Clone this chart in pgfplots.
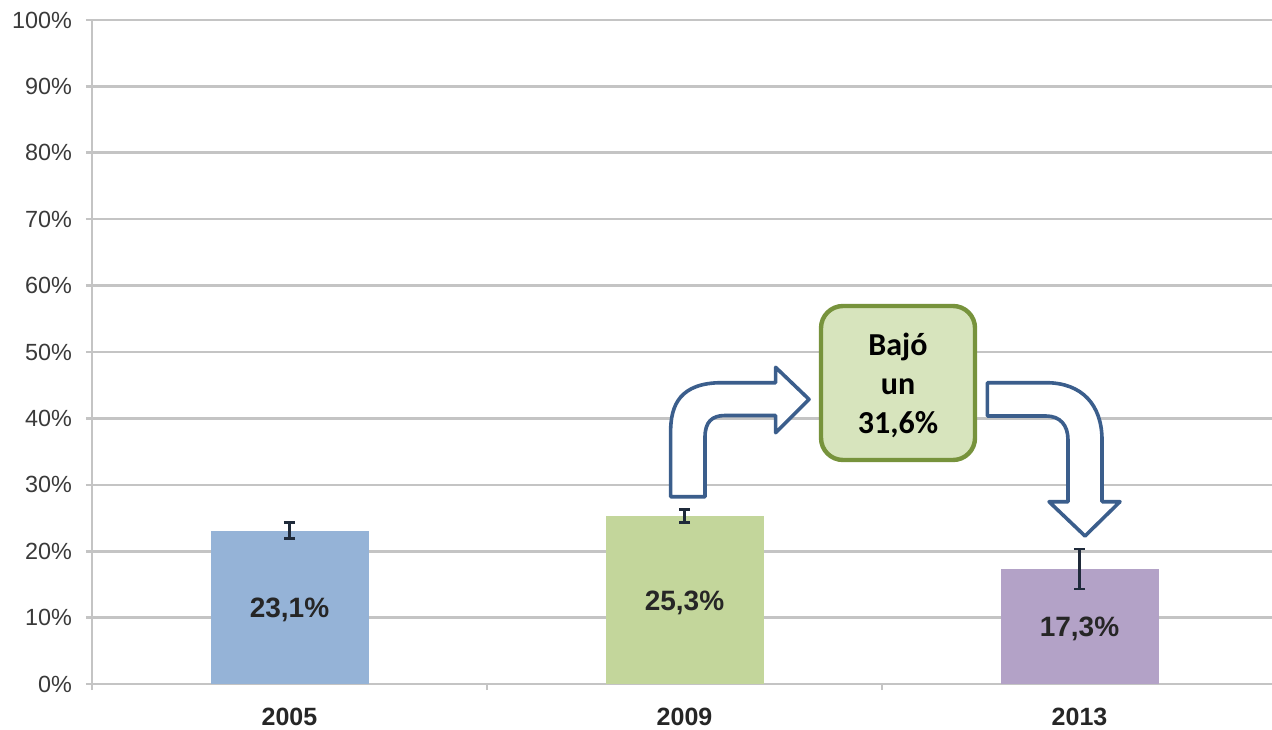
\documentclass[border=0pt]{standalone}
\usepackage{pgfplots}
\pgfplotsset{compat=1.18}
\usepackage{fontspec}
\setmainfont{Liberation Sans}
\newfontfamily\carlito{Carlito}
\definecolor{gridc}{HTML}{C4C4C4}
\definecolor{cblue}{HTML}{95B3D7}
\definecolor{cgreen}{HTML}{C3D69B}
\definecolor{cpurple}{HTML}{B3A2C7}
\definecolor{arrowc}{HTML}{3B5E8C}
\definecolor{boxfill}{HTML}{D7E4BD}
\definecolor{boxdraw}{HTML}{77933C}
\definecolor{errc}{HTML}{1F2A3A}
\definecolor{txt}{HTML}{3A3A3A}
\begin{document}
\begin{tikzpicture}
\begin{axis}[name=ax, scale only axis, width=592.5pt, height=332pt,
  xmin=-0.5, xmax=2.5, ymin=0, ymax=100,
  axis x line*=bottom, axis y line*=left,
  axis line style={gridc, line width=1.3pt, -},
  tick align=outside, major tick length=3pt,
  tick style={gridc, line width=1.3pt},
  ytick={0,10,...,100},
  yticklabels={0\%,10\%,20\%,30\%,40\%,50\%,60\%,70\%,80\%,90\%,100\%},
  yticklabel style={font=\fontsize{11.7}{13}\selectfont, text=txt, xshift=-3.5pt},
  ymajorgrids, grid style={gridc, line width=1.3pt},
  xtick={-0.5,0.5,1.5,2.5}, xticklabels={},
  extra x ticks={0,1,2}, extra x tick labels={2005,2009,2013},
  extra x tick style={major tick length=0pt, xticklabel style={font=\fontsize{12.5}{14}\selectfont\bfseries, text=black!85, yshift=-8.5pt}},
  clip=false,
]
\addplot[ybar, bar width=79pt, bar shift=0pt, fill=cblue, draw=none,
  error bars/.cd, y dir=both, y explicit,
  error bar style={errc, line width=1.2pt},
  error mark options={rotate=90, errc, mark size=2.8pt, line width=1.2pt}]
  coordinates {(0,23.1) +- (0,1.2)};
\addplot[ybar, bar width=79pt, bar shift=0pt, fill=cgreen, draw=none,
  error bars/.cd, y dir=both, y explicit,
  error bar style={errc, line width=1.2pt},
  error mark options={rotate=90, errc, mark size=2.8pt, line width=1.2pt}]
  coordinates {(1,25.3) +- (0,1.0)};
\addplot[ybar, bar width=79pt, bar shift=0pt, fill=cpurple, draw=none,
  error bars/.cd, y dir=both, y explicit,
  error bar style={errc, line width=1.2pt},
  error mark options={rotate=90, errc, mark size=2.8pt, line width=1.2pt}]
  coordinates {(2,17.3) +- (0,3.0)};
\node[font=\fontsize{14}{16}\selectfont\bfseries, text=black!85] at (axis cs:0,11.1) {23,1\%};
\node[font=\fontsize{14}{16}\selectfont\bfseries, text=black!85] at (axis cs:1,12.2) {25,3\%};
\node[font=\fontsize{14}{16}\selectfont\bfseries, text=black!85] at (axis cs:2,8.3) {17,3\%};
\end{axis}
\begin{scope}[shift={(ax.north west)}, x=0.5pt, y=-0.5pt, shift={(-92,-20)}]
  % left bent arrow
  \draw[arrowc, line width=1.8pt, fill=white, line join=round]
    (670.6,496.7) -- (670.6,432) .. controls (670.6,405) and (680,382.7) .. (722,382.7)
    -- (775.6,382.7) -- (775.6,367.3) -- (809,399.3) -- (775.6,432.7) -- (775.6,415.5)
    -- (725,415.5) .. controls (712,415.5) and (705,422) .. (705,437) -- (705,496.7) -- cycle;
  % right bent arrow
  \draw[arrowc, line width=1.8pt, fill=white, line join=round]
    (987.4,382.7) -- (1046,382.7) .. controls (1082,382.7) and (1102,405) .. (1102,440)
    -- (1102,501.7) -- (1120,501.7) -- (1085,536) -- (1049,501.7) -- (1068,501.7)
    -- (1068,440) .. controls (1068,425) and (1060,416) .. (1046,416) -- (987.4,416) -- cycle;
  % box
  \draw[boxdraw, line width=2.2pt, fill=boxfill, rounded corners=11pt] (821,306) rectangle (975,460);
  \node[align=center, font=\fontsize{16}{19.5}\selectfont\carlito\bfseries, text=black] at (898,385) {Bajó\\un\\31,6\%};
\end{scope}
\pgfresetboundingbox
\path[shift={(ax.north west)}, x=0.5pt, y=-0.5pt, shift={(-92,-20)}] (0,0) rectangle (1272,729);
\end{tikzpicture}
\end{document}
